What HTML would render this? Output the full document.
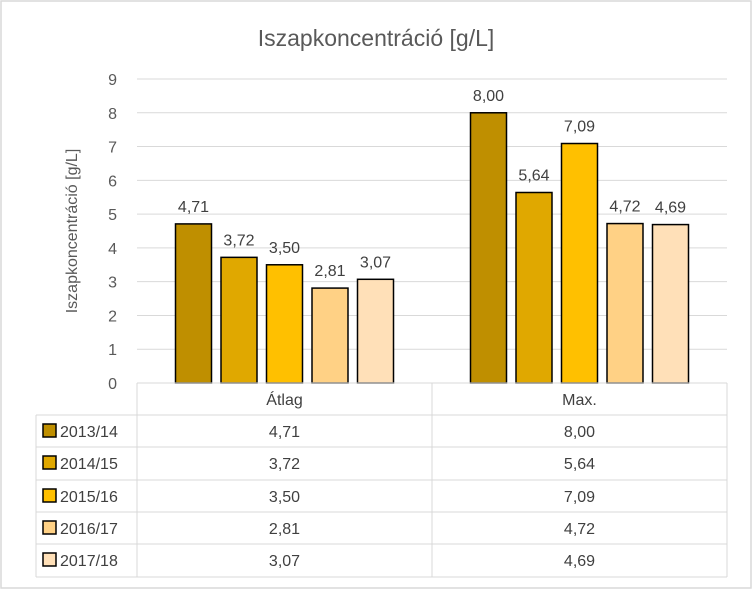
<!DOCTYPE html>
<html><head><meta charset="utf-8"><style>
body{margin:0;background:#fff;}
svg{display:block;font-family:"Liberation Sans",sans-serif;}
</style></head><body>
<svg id="c" width="752" height="589">
<rect x="1" y="1" width="750" height="587" fill="#fff" stroke="#d9d9d9" stroke-width="1.5"/>
<text x="376" y="46" text-anchor="middle" font-size="23" fill="#595959">Iszapkoncentráció  [g/L]</text>
<text transform="translate(77,231) rotate(-90)" text-anchor="middle" font-size="16" fill="#595959">Iszapkoncentráció [g/L]</text>
<g id="grid"></g><g id="bars"></g><g id="table"></g>
</svg>
<script>
const categories=["Átlag","Max."];
const seriesNames=["2013/14","2014/15","2015/16","2016/17","2017/18"];
const s2013=[4.71,8.00];
const s2014=[3.72,5.64];
const s2015=[3.50,7.09];
const s2016=[2.81,4.72];
const s2017=[3.07,4.69];
const yTicks=[0,1,2,3,4,5,6,7,8,9];
const series=[s2013,s2014,s2015,s2016,s2017];
const colors=["#BF8F00","#E0A800","#FFC000","#FFD185","#FFE0B8"];
const NS="http://www.w3.org/2000/svg";
const X0=137,X1=727,Y0=383,Y1=79,YMAX=9;
const y=v=>Y0-(v/YMAX)*(Y0-Y1);
const groupW=(X1-X0)/categories.length;
const barW=36,step=45.5;
const bx=(g,s)=>X0+groupW*(g+0.5)+(s-(series.length-1)/2)*step-barW/2;
const fmt=v=>v.toFixed(2).replace('.',',');
function mk(t,a,p){const e=document.createElementNS(NS,t);for(const k in a)e.setAttribute(k,a[k]);p.appendChild(e);return e;}
const grid=document.getElementById('grid');
yTicks.forEach(t=>{
 const l=mk('line',{x1:X0,x2:X1,y1:y(t),y2:y(t),stroke:'#d9d9d9','stroke-width':1},grid);
 
 
 const tx=mk('text',{x:117,y:y(t)+6,'text-anchor':'end','font-size':16,fill:'#595959'},grid);
 tx.textContent=t;
 
 
});
const bars=document.getElementById('bars');
series.forEach((sv,si)=>sv.forEach((v,gi)=>{
 const r=mk('rect',{x:bx(gi,si),y:y(v),width:barW,height:Y0-y(v),fill:colors[si],stroke:'#000','stroke-width':1.5},bars);
 
 
 const t=mk('text',{x:bx(gi,si)+barW/2,y:y(v)-12,'text-anchor':'middle','font-size':16,fill:'#404040'},bars);
 t.textContent=fmt(v);
 
 
}));
const tb=document.getElementById('table');
const rows=[383,415,447,480,512,544,577];
const lc='#d9d9d9';
mk('line',{x1:X0,x2:X1,y1:383,y2:383,stroke:lc},tb);
for(let i=1;i<rows.length;i++){mk('line',{x1:36,x2:X1,y1:rows[i],y2:rows[i],stroke:lc},tb);}
mk('line',{x1:36,x2:36,y1:415,y2:577,stroke:lc},tb);
[X0,X0+groupW,X1].forEach(x=>mk('line',{x1:x,x2:x,y1:383,y2:577,stroke:lc},tb));
categories.forEach((c,gi)=>{
 const t=mk('text',{x:X0+groupW*(gi+0.5),y:405,'text-anchor':'middle','font-size':16,fill:'#404040'},tb);
 t.textContent=c;
 
 
});
series.forEach((sv,si)=>{
 const ry=rows[si+1];
 const k=mk('rect',{x:43,y:ry+9,width:13,height:13,fill:colors[si],stroke:'#000','stroke-width':1.5},tb);
 
 
 const n=mk('text',{x:60,y:ry+22,'font-size':16,fill:'#404040'},tb);
 n.textContent=seriesNames[si];
 
 
 sv.forEach((v,gi)=>{
  const t=mk('text',{x:X0+groupW*(gi+0.5),y:ry+22,'text-anchor':'middle','font-size':16,fill:'#404040'},tb);
  t.textContent=fmt(v);
  
  
 });
});
</script>
</body></html>
